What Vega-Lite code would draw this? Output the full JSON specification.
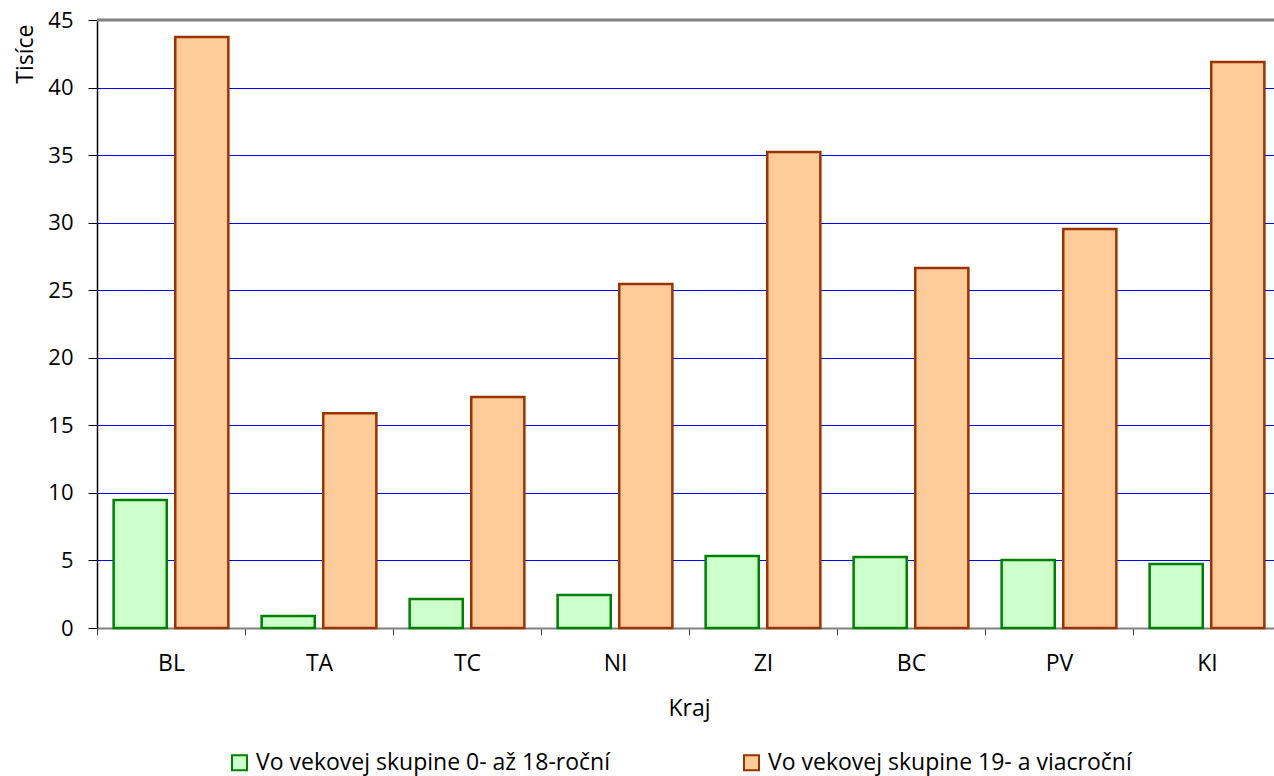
{
  "$schema": "https://vega.github.io/schema/vega-lite/v6.json",
  "width": 1177,
  "height": 608,
  "autosize": {"type": "none"},
  "padding": {"left": 97, "top": 20, "right": 0, "bottom": 148},
  "data": {
    "values": [
      {"kraj": "BL", "skupina": "Vo vekovej skupine 0- až 18-roční", "tisice": 9.47},
      {"kraj": "BL", "skupina": "Vo vekovej skupine 19- a viacroční", "tisice": 43.75},
      {"kraj": "TA", "skupina": "Vo vekovej skupine 0- až 18-roční", "tisice": 0.89},
      {"kraj": "TA", "skupina": "Vo vekovej skupine 19- a viacroční", "tisice": 15.9},
      {"kraj": "TC", "skupina": "Vo vekovej skupine 0- až 18-roční", "tisice": 2.15},
      {"kraj": "TC", "skupina": "Vo vekovej skupine 19- a viacroční", "tisice": 17.1},
      {"kraj": "NI", "skupina": "Vo vekovej skupine 0- až 18-roční", "tisice": 2.44},
      {"kraj": "NI", "skupina": "Vo vekovej skupine 19- a viacroční", "tisice": 25.46},
      {"kraj": "ZI", "skupina": "Vo vekovej skupine 0- až 18-roční", "tisice": 5.33},
      {"kraj": "ZI", "skupina": "Vo vekovej skupine 19- a viacroční", "tisice": 35.23},
      {"kraj": "BC", "skupina": "Vo vekovej skupine 0- až 18-roční", "tisice": 5.25},
      {"kraj": "BC", "skupina": "Vo vekovej skupine 19- a viacroční", "tisice": 26.65},
      {"kraj": "PV", "skupina": "Vo vekovej skupine 0- až 18-roční", "tisice": 5.03},
      {"kraj": "PV", "skupina": "Vo vekovej skupine 19- a viacroční", "tisice": 29.53},
      {"kraj": "KI", "skupina": "Vo vekovej skupine 0- až 18-roční", "tisice": 4.74},
      {"kraj": "KI", "skupina": "Vo vekovej skupine 19- a viacroční", "tisice": 41.9}
    ]
  },
  "layer": [
    {
      "mark": {"type": "bar", "strokeWidth": 2.5},
      "encoding": {
        "x": {
          "field": "kraj",
          "type": "nominal",
          "sort": ["BL", "TA", "TC", "NI", "ZI", "BC", "PV", "KI"],
          "scale": {"type": "band", "range": [0, 1184], "paddingInner": 0, "paddingOuter": 0},
          "axis": {
            "title": "Kraj",
            "labelAngle": 0,
            "tickBand": "extent",
            "tickSize": 7,
            "tickColor": "#444444",
            "domainColor": "#808080",
            "domainWidth": 2,
            "labelFontSize": 23,
            "labelPadding": 17,
            "titleFontSize": 23,
            "titleFontWeight": "normal",
            "titlePadding": 22
          }
        },
        "xOffset": {
          "field": "skupina",
          "type": "nominal",
          "scale": {
            "domain": ["Vo vekovej skupine 0- až 18-roční", "Vo vekovej skupine 19- a viacroční"],
            "paddingInner": 0.138,
            "paddingOuter": 0.27
          }
        },
        "y": {
          "field": "tisice",
          "type": "quantitative",
          "scale": {"domain": [0, 45], "nice": false},
          "axis": {
            "title": "Tisíce",
            "values": [0, 5, 10, 15, 20, 25, 30, 35, 40, 45],
            "grid": true,
            "gridColor": "#0000ff",
            "gridWidth": 1,
            "domainColor": "#000000",
            "domainWidth": 1.5,
            "tickColor": "#000000",
            "tickSize": 9,
            "labelFontSize": 22,
            "labelPadding": 15,
            "titleFontSize": 23,
            "titleFontWeight": "normal",
            "titleAlign": "right",
            "titleBaseline": "alphabetic",
            "titleAngle": -90,
            "titleX": -65,
            "titleY": 4
          }
        },
        "fill": {
          "field": "skupina",
          "type": "nominal",
          "scale": {
            "domain": ["Vo vekovej skupine 0- až 18-roční", "Vo vekovej skupine 19- a viacroční"],
            "range": ["#ccffcc", "#ffcc99"]
          },
          "legend": {"title": null}
        },
        "stroke": {
          "field": "skupina",
          "type": "nominal",
          "scale": {
            "domain": ["Vo vekovej skupine 0- až 18-roční", "Vo vekovej skupine 19- a viacroční"],
            "range": ["#008000", "#993300"]
          },
          "legend": {"title": null}
        }
      }
    },
    {
      "data": {"values": [{"hranica": 45}]},
      "mark": {"type": "rule", "color": "#808080", "strokeWidth": 3},
      "encoding": {"y": {"field": "hranica", "type": "quantitative"}}
    }
  ],
  "config": {
    "font": "Open Sans",
    "view": {"stroke": null},
    "axis": {"labelColor": "#000000", "titleColor": "#000000"},
    "legend": {
      "orient": "none",
      "legendX": 131,
      "legendY": 731,
      "direction": "horizontal",
      "symbolType": "square",
      "symbolSize": 225,
      "symbolStrokeWidth": 2,
      "labelFontSize": 23,
      "labelColor": "#000000",
      "labelOffset": 5,
      "labelLimit": 600,
      "columnPadding": 130
    }
  }
}
